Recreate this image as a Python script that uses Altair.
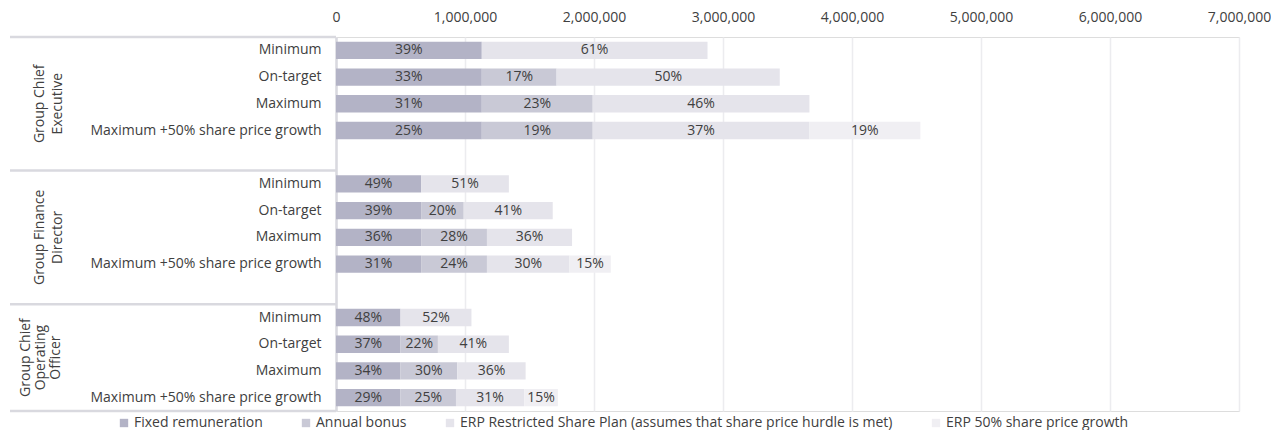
import altair as alt
import pandas as pd

# ---------------- data ----------------
groups = ["Group Chief Executive", "Group Finance Director", "Group Chief Operating Officer"]
group_labels = ["Group Chief\nExecutive", "Group Finance\nDirector", "Group Chief\nOperating\nOfficer"]
scenarios = ["Minimum", "On-target", "Maximum", "Maximum +50% share price growth"]
series = [
    "Fixed remuneration",
    "Annual bonus",
    "ERP Restricted Share Plan (assumes that share price hurdle is met)",
    "ERP 50% share price growth",
]
colors = ["#b3b3c6", "#c9c9d6", "#e5e4eb", "#f0eff3"]

# one value per (group, scenario), group-major order
fixed_pay = [1130000, 1130000, 1130000, 1130000,
             660000, 660000, 660000, 660000,
             500000, 500000, 500000, 500000]
annual_bonus = [0, 580000, 860000, 860000,
                0, 330000, 510000, 510000,
                0, 290000, 440000, 430000]
erp_rsp = [1750000, 1730000, 1680000, 1680000,
           680000, 690000, 660000, 640000,
           550000, 550000, 530000, 530000]
erp_growth = [0, 0, 0, 860000,
              0, 0, 0, 320000,
              0, 0, 0, 260000]

x_ticks = [0, 1000000, 2000000, 3000000, 4000000, 5000000, 6000000, 7000000]

# ---------------- build tables ----------------
row_keys = []
for gi, g in enumerate(groups):
    for s in scenarios:
        row_keys.append(g + "|" + s)
    if gi < len(groups) - 1:
        row_keys.append("gap" + str(gi))

records = []
i = 0
for g in groups:
    for s in scenarios:
        vals = [fixed_pay[i], annual_bonus[i], erp_rsp[i], erp_growth[i]]
        total = sum(vals)
        start = 0
        for ser, v in zip(series, vals):
            if v > 0:
                records.append({
                    "key": g + "|" + s,
                    "series": ser,
                    "start": start,
                    "end": start + v,
                    "mid": start + v / 2,
                    "label": f"{round(100 * v / total)}%",
                })
            start += v
        i += 1

bars_df = pd.DataFrame(records)

# slot boundaries (in rows) and group centres (in rows)
bounds_df = pd.DataFrame({"pos": [0, 5, 10, 14]})
groups_df = pd.DataFrame({"pos": [2.5, 7.5, 12.0], "text": group_labels,
                          "n": [2, 2, 3]})

PLOT_H = 374
PLOT_W = 903
LEFT_W = 326
TXT = "#404040"
LINE = "#d9d9df"
FONT = "Open Sans"

yscale = alt.Scale(domain=row_keys, paddingInner=0.35, paddingOuter=0.175)
qscale = alt.Scale(domain=[0, 14], reverse=True, nice=False, zero=False)
xscale = alt.Scale(domain=[0, 7000000], nice=False)

base = alt.Chart(bars_df)

bars = base.mark_bar().encode(
    x=alt.X(
        "start:Q",
        scale=xscale,
        axis=alt.Axis(
            orient="top", values=x_ticks, format=",.0f", title=None, grid=True,
            gridColor="#ececef", gridWidth=1.5, domain=False, ticks=False,
            labelFontSize=14, labelColor=TXT, labelPadding=13, labelFont=FONT,
            labelFlush=False,
        ),
    ),
    x2="end:Q",
    y=alt.Y(
        "key:N",
        scale=yscale,
        axis=alt.Axis(
            title=None, ticks=False, domain=True, domainColor=LINE, domainWidth=2.5,
            grid=False, labelFontSize=14, labelColor=TXT, labelFont=FONT,
            labelPadding=15, labelLimit=400,
            labelExpr="indexof(datum.value, '|') >= 0 ? split(datum.value, '|')[1] : ''",
        ),
    ),
    color=alt.Color(
        "series:N",
        scale=alt.Scale(domain=series, range=colors),
        legend=alt.Legend(
            title=None, orient="none", direction="horizontal",
            legendX=-219, legendY=379, symbolType="square", symbolSize=70,
            symbolStrokeWidth=0, labelFontSize=14, labelColor=TXT, labelFont=FONT,
            labelLimit=700, columnPadding=36, padding=0, labelOffset=3,
        ),
    ),
)

bar_text = base.mark_text(
    align="center", baseline="middle", fontSize=14, color=TXT, font=FONT
).encode(
    x="mid:Q",
    y=alt.Y("key:N", scale=yscale, axis=None),
    text="label:N",
)

sep_rules = alt.Chart(bounds_df).mark_rule(color=LINE, strokeWidth=2.5).encode(
    x=alt.value(-LEFT_W),
    x2=alt.value(0),
    y=alt.Y("pos:Q", scale=qscale, axis=None),
)

grp_text2 = alt.Chart(groups_df).transform_filter("datum.n == 2").mark_text(
    align="center", baseline="middle", angle=270, fontSize=14, color=TXT,
    font=FONT, lineBreak="\n", lineHeight=18
).encode(
    x=alt.value(-296),
    y=alt.Y("pos:Q", scale=qscale, axis=None),
    text="text:N",
)

grp_text3 = alt.Chart(groups_df).transform_filter("datum.n == 3").mark_text(
    align="center", baseline="middle", angle=270, fontSize=14, color=TXT,
    font=FONT, lineBreak="\n", lineHeight=15
).encode(
    x=alt.value(-310),
    y=alt.Y("pos:Q", scale=qscale, axis=None),
    text="text:N",
)

chart = alt.layer(sep_rules, grp_text2, grp_text3, bars, bar_text).resolve_scale(
    y="independent"
).properties(
    width=PLOT_W, height=PLOT_H,
    padding={"left": 0, "top": 2, "right": 0, "bottom": 0},
).configure_view(strokeWidth=0).configure(font=FONT)

chart.save("out.html", embed_options={"renderer": "svg", "actions": False})
